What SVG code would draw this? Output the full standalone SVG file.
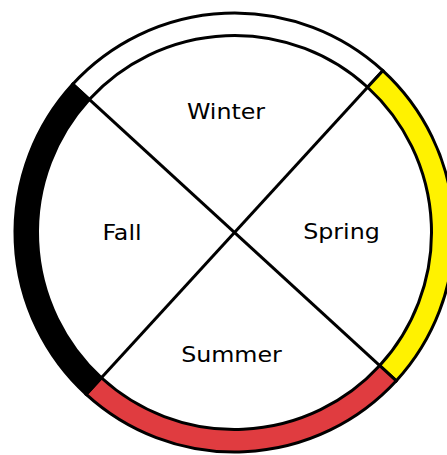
<svg xmlns="http://www.w3.org/2000/svg" width="447" height="455" viewBox="0 0 447 455">
<style>
.seg{stroke:#000;stroke-width:3;stroke-linejoin:miter}
.lbl{font-family:"DejaVu Sans",Verdana,sans-serif;font-size:22px;fill:#000;text-anchor:middle}
.ln{stroke:#000;stroke-width:3;fill:none}
</style>
<rect width="447" height="455" fill="#fff"/>
<g transform="rotate(-2.5 234.5 232.5)">
<g id="winter">
<path class="seg" fill="#fff" d="M79.29 77.29 A219.5 219.5 0 0 1 389.71 77.29 L373.80 93.20 A197 197 0 0 0 95.20 93.20 Z"/>
</g>
<g id="spring">
<path class="seg" fill="#FFF200" d="M389.71 77.29 A219.5 219.5 0 0 1 389.71 387.71 L373.80 371.80 A197 197 0 0 0 373.80 93.20 Z"/>
</g>
<g id="summer">
<path class="seg" fill="#E03C40" d="M389.71 387.71 A219.5 219.5 0 0 1 79.29 387.71 L95.20 371.80 A197 197 0 0 0 373.80 371.80 Z"/>
</g>
<g id="fall">
<path class="seg" fill="#000" d="M79.29 387.71 A219.5 219.5 0 0 1 79.29 77.29 L95.20 93.20 A197 197 0 0 0 95.20 371.80 Z"/>
</g>
<g id="connectors">
<line class="ln" x1="95.20" y1="93.20" x2="373.80" y2="371.80"/>
<line class="ln" x1="373.80" y1="93.20" x2="95.20" y2="371.80"/>
</g>
</g>
<g id="labels">
<text class="lbl" transform="translate(226 119) scale(1.08 1)">Winter</text>
<text class="lbl" transform="translate(341.5 238.5) scale(1.08 1)">Spring</text>
<text class="lbl" transform="translate(122 239.5) scale(1.08 1)">Fall</text>
<text class="lbl" transform="translate(231.5 361.5) scale(1.08 1)">Summer</text>
</g>
</svg>
